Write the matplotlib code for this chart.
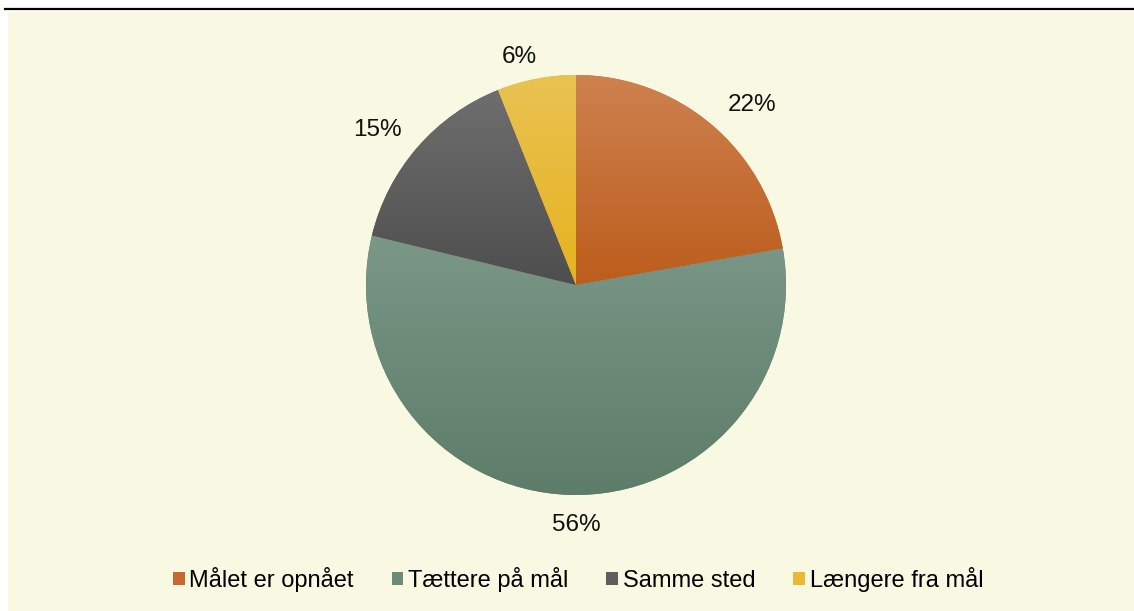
import numpy as np
import matplotlib
matplotlib.use("Agg")
import matplotlib.pyplot as plt
from matplotlib.patches import Rectangle, Patch
from matplotlib.lines import Line2D
from matplotlib.colors import to_rgb

categories = ["Målet er opnået", "Tættere på mål", "Samme sted", "Længere fra mål"]
values = [22, 56, 15, 6]
pct_labels = ["22%", "56%", "15%", "6%"]

top_colors = ["#CE814F", "#7A9787", "#6E6E6E", "#E9C252"]
bottom_colors = ["#BC5D1C", "#5D7C69", "#4E4E4E", "#E6B21E"]
mid_colors = ["#C66A30", "#6B8A78", "#5E5E5E", "#E8B932"]

# label placement (radial distance in radii, angular shift in degrees)
label_dist = [1.205, 1.13, 1.205, 1.13]
label_shift = [-4.0, 1.8, 2.5, 3.0]

plt.rcParams['font.family'] = ['Liberation Sans', 'DejaVu Sans']

W, H = 1134, 611
fig = plt.figure(figsize=(W / 100, H / 100), dpi=100)
fig.patch.set_facecolor("white")

# cream background panel
fig.patches.append(Rectangle((8 / W, 0), 1 - 8 / W, (H - 12) / H,
                             transform=fig.transFigure, facecolor="#F9F8E2",
                             edgecolor="none", zorder=-5))
# top black rule
fig.add_artist(Line2D([5 / W, 1], [1 - 9 / H, 1 - 9 / H], transform=fig.transFigure,
                      color="black", linewidth=1.6, zorder=-4))

cx, cy, r = 576, H - 285, 210
half = 260
ax = fig.add_axes([(cx - half) / W, (cy - half) / H, 2 * half / W, 2 * half / H])
ax.set_facecolor("none")
ax.set_zorder(2)

wedges, _ = ax.pie(values, colors=mid_colors, startangle=90,
                   counterclock=False, radius=1, wedgeprops=dict(linewidth=0))

for w, lab, d, s in zip(wedges, pct_labels, label_dist, label_shift):
    mid = np.deg2rad((w.theta1 + w.theta2) / 2 + s)
    ax.text(d * np.cos(mid), d * np.sin(mid), lab, ha="center", va="center_baseline",
            fontsize=17.5, color="#111111")

# vertical gradient fill for each wedge
for w, c1, c2 in zip(wedges, top_colors, bottom_colors):
    ext = w.get_path().get_extents()
    n = 256
    a = np.linspace(0, 1, n)[:, None]
    t1, t2 = np.array(to_rgb(c1)), np.array(to_rgb(c2))
    grad = (t1[None, :] * (1 - a) + t2[None, :] * a)[:, None, :]
    im = ax.imshow(grad, extent=[ext.x0, ext.x1, ext.y0, ext.y1], origin="upper",
                   aspect="auto", zorder=w.get_zorder() + 0.1, interpolation="bilinear")
    im.set_clip_path(w)

lim = half / r
ax.set_xlim(-lim, lim)
ax.set_ylim(-lim, lim)
ax.set_aspect("equal")
ax.axis("off")

handles = [Patch(facecolor=c, edgecolor="none") for c in mid_colors]
fig.legend(handles, categories, loc="center", bbox_to_anchor=(578 / W, 1 - 579.5 / H),
           ncol=4, frameon=False, fontsize=17, handlelength=0.5, handleheight=0.5,
           handletextpad=0.2, columnspacing=1.6, borderaxespad=0)

fig.savefig("out.png", dpi=100, facecolor=fig.get_facecolor())
